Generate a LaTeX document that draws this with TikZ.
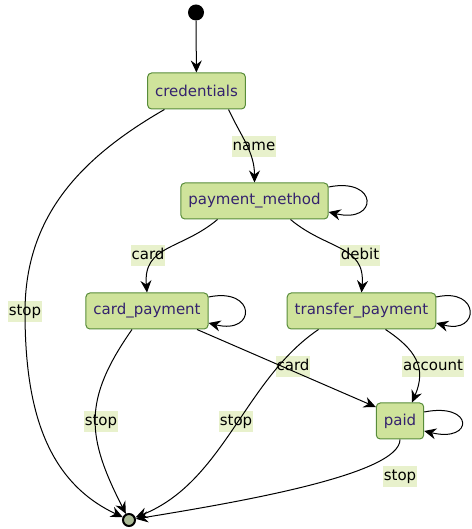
\documentclass[tikz,border=0pt]{standalone}
\usepackage{fontspec}
\setmainfont{DejaVu Sans}
\usetikzlibrary{arrows.meta}
\definecolor{statefill}{RGB}{207,227,155}
\definecolor{stateline}{RGB}{88,140,58}
\definecolor{statetext}{RGB}{52,34,110}
\definecolor{lblfill}{RGB}{232,241,204}
\definecolor{endfill}{RGB}{170,186,150}
\begin{document}
\begin{tikzpicture}[x=1pt,y=1pt,
	font=\fontsize{15}{18}\selectfont,
	state/.style={draw=stateline, fill=statefill, text=statetext, rounded corners=4pt,
		line width=1pt, minimum height=36pt, inner xsep=7.5pt},
	lbl/.style={fill=lblfill, inner xsep=1pt, inner ysep=3pt, text height=11pt, text depth=4pt},
	trans/.style={draw, line width=1pt, -{Stealth[length=12pt,width=11pt,inset=4pt]}}]
	
	\useasboundingbox (0,0) rectangle (471,529);
	
	% labels first, the lines run over them
	\node[lbl] (lname) at (254,382) {name};
	\node[lbl] (lstop1) at (25,217) {stop};
	\node[lbl] (lcard1) at (148,273) {card};
	\node[lbl] (ldebit) at (360,273) {debit};
	\node[lbl] (lcard2) at (293,162) {card};
	\node[lbl] (laccount) at (433,162) {account};
	\node[lbl] (lstop2) at (101,107) {stop};
	\node[lbl] (lstop3) at (236,107) {stop};
	\node[lbl] (lstop4) at (400,52) {stop};
	
	% states
	\node[circle, fill=black, minimum size=16pt, inner sep=0pt] (start) at (196,516.5) {};
	\node[state] (cred) at (196.5,438) {credentials};
	\node[state] (pm) at (254.5,328) {payment\_method};
	\node[state] (cp) at (147,218) {card\_payment};
	\node[state] (tp) at (361.5,218) {transfer\_payment};
	\node[state] (paid) at (400,108) {paid};
	\node[circle, draw=black, line width=2pt, fill=endfill, minimum size=12pt, inner sep=0pt] (end) at (129,9) {};
	
	% transitions
	\draw[trans] (start) -- (cred);
	\draw[trans] (cred.-30) to[out=-65,in=90] (pm.north);
	\draw[trans] (cred.-150) to[out=-150,in=90] (lstop1.center) to[out=-90,in=155] (end);
	\draw[trans] ([xshift=-37pt]pm.south) to[out=-140,in=95,looseness=1.2] (cp.north);
	\draw[trans] ([xshift=36pt]pm.south) to[out=-40,in=85,looseness=1.2] (tp.north);
	\draw[trans] ([xshift=50pt]cp.south) -- (paid.150);
	\draw[trans] ([xshift=24pt]tp.south) .. controls +(30,-20) and +(15,35) .. ([xshift=12pt]paid.north);
	\draw[trans] ([xshift=-15pt]cp.south) to[out=-125,in=117,looseness=1.2] (end);
	\draw[trans] ([xshift=-43pt]tp.south) .. controls +(-74,-50) and +(95,38) .. (end);
	\draw[trans] (paid.south) .. controls +(0,-35) and +(110,18) .. (end);
	
	% loops
	\draw[trans] ([yshift=14pt]pm.east) .. controls +(50,10) and +(50,-12) .. ([yshift=-11pt]pm.east);
	\draw[trans] ([yshift=14pt]cp.east) .. controls +(48,10) and +(48,-12) .. ([yshift=-12pt]cp.east);
	\draw[trans] ([yshift=14pt]tp.east) .. controls +(44,10) and +(44,-12) .. ([yshift=-12pt]tp.east);
	\draw[trans] ([yshift=9pt]paid.east) .. controls +(50,10) and +(50,-12) .. ([yshift=-10pt]paid.east);
\end{tikzpicture}
\end{document}
